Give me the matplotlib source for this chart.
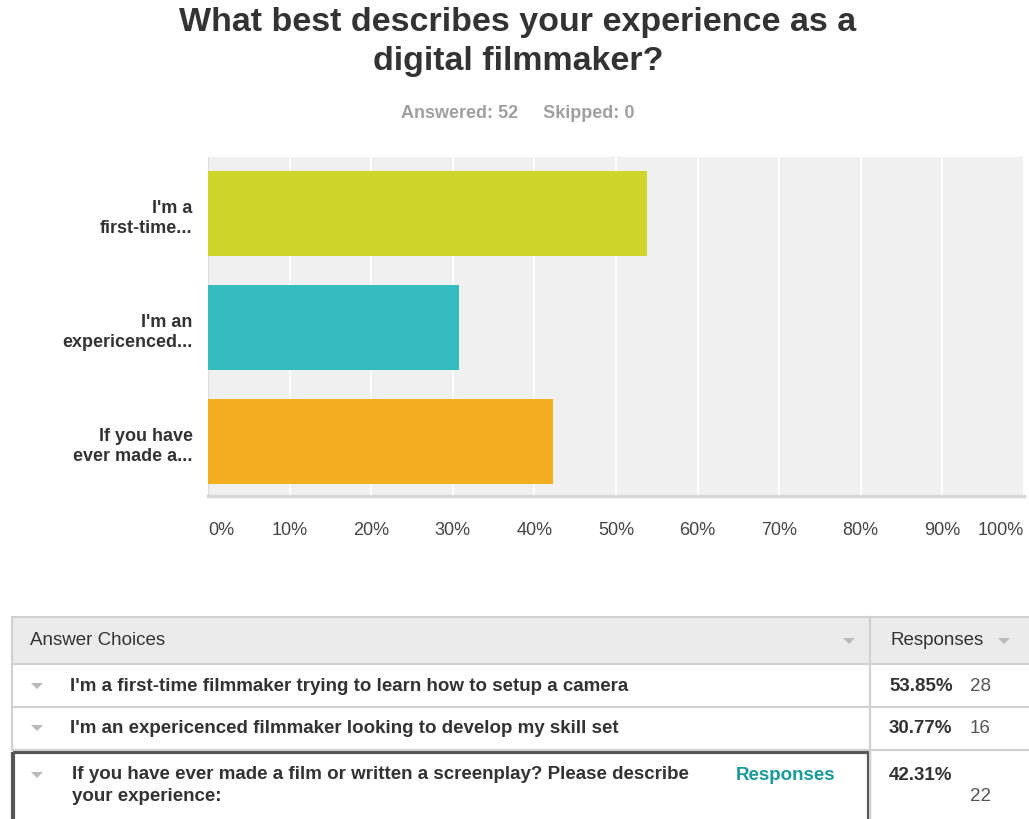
import matplotlib.pyplot as plt
from matplotlib.patches import Rectangle, Polygon

# survey results
short_labels = ["I'm a\nfirst-time...", "I'm an\nexpericenced...", "If you have\never made a..."]
full_labels = [
    "I'm a first-time filmmaker trying to learn how to setup a camera",
    "I'm an expericenced filmmaker looking to develop my skill set",
    "If you have ever made a film or written a screenplay? Please describe\nyour experience:",
]
percents = [53.85, 30.77, 42.31]
counts = [28, 16, 22]
bar_colors = ["#cfd52a", "#33bdbe", "#f6ae21"]
ticks = [0, 10, 20, 30, 40, 50, 60, 70, 80, 90, 100]

W, H = 1029, 820
fig = plt.figure(figsize=(W / 100, H / 100), dpi=100)
plt.rcParams['font.family'] = ['Liberation Sans', 'DejaVu Sans']


def px_axes(x0, y0, x1, y1):
    return fig.add_axes([x0 / W, 1 - y1 / H, (x1 - x0) / W, (y1 - y0) / H])


# bar chart
ax = px_axes(208, 158, 1024, 497)
ax.set_facecolor("#f0f0f0")
ypos = list(range(len(percents)))
ax.barh(ypos, percents, height=0.746, color=bar_colors, zorder=3)
ax.set_xlim(0, 100)
ax.set_ylim(2.478, -0.496)
ax.set_xticks(ticks)
ax.xaxis.grid(True, color="white", linewidth=1.5, zorder=1)
ax.set_yticks(ypos)
ax.set_yticklabels(short_labels, fontsize=13, fontweight="bold", color="#333333",
                   linespacing=1.25)
ax.tick_params(axis="y", length=0, pad=11)
ax.tick_params(axis="x", length=0, pad=18, labelsize=13, labelcolor="#444444")
ax.set_xticklabels([f"{t}%" for t in ticks])
xl = ax.get_xticklabels()
xl[0].set_ha("left")
xl[-1].set_ha("right")
for s in ["top", "right"]:
    ax.spines[s].set_visible(False)
ax.spines["left"].set_color("#dddddd")
ax.spines["bottom"].set_color("#d8d8d8")
ax.spines["bottom"].set_linewidth(2.5)

fig.text(518 / W, 1 - 42 / H, "What best describes your experience as a\ndigital filmmaker?",
         ha="center", va="center", fontsize=24.5, fontweight="bold", color="#333333",
         linespacing=1.3)
fig.text(518 / W, 1 - 114 / H, "Answered: 52     Skipped: 0", ha="center", va="center",
         fontsize=13, fontweight="bold", color="#a0a0a0")

# table underneath
tb = fig.add_axes([0, 0, 1, 1])
tb.set_xlim(0, W)
tb.set_ylim(H, 0)
tb.axis("off")
narrow = ["Liberation Sans Narrow", "Liberation Sans", "DejaVu Sans"]

tb.add_patch(Rectangle((12, 618), W - 12, 47, facecolor="#ebebeb", edgecolor="none"))
tb.plot([12, W], [618, 618], color="#d0d0d0", lw=1.5)
tb.plot([12, W], [665, 665], color="#d0d0d0", lw=1.5)
tb.plot([12, W], [708, 708], color="#d0d0d0", lw=1.5)
tb.plot([12, W], [751, 751], color="#d0d0d0", lw=1.5)
tb.plot([870, 870], [618, H], color="#d0d0d0", lw=1.5)
tb.plot([12, 12], [618, 751], color="#d0d0d0", lw=1.5)
tb.text(30, 641, "Answer Choices", ha="left", va="center", fontsize=13.5,
        color="#333333", family=narrow)
tb.text(890, 641, "Responses", ha="left", va="center", fontsize=13.5,
        color="#333333", family=narrow)


def tri(x, y, c="#bbbbbb"):
    tb.add_patch(Polygon([[x - 6, y - 3], [x + 6, y - 3], [x, y + 3]], closed=True,
                         facecolor=c, edgecolor="none"))


tri(849, 642)
tri(1004, 642)

row_y = [687, 729, 776]
for i, (lab, p, n) in enumerate(zip(full_labels, percents, counts)):
    y = row_y[i]
    tri(37, y)
    if i < 2:
        tb.text(70, y, lab, ha="left", va="center", fontsize=13.5, fontweight="bold",
                color="#333333", family=narrow)
        tb.text(889, y, f"{p:.2f}%", ha="left", va="center", fontsize=13.5,
                fontweight="bold", color="#333333", family=narrow)
        tb.text(970, y, str(n), ha="left", va="center", fontsize=13.5,
                color="#555555", family=narrow)
    else:
        tb.text(72, y - 10, lab, ha="left", va="top", fontsize=13.5, fontweight="bold",
                color="#333333", family=narrow, linespacing=1.4)
        tb.text(736, y, "Responses", ha="left", va="center", fontsize=13.5,
                fontweight="bold", color="#1a9a9a", family=narrow)
        tb.text(889, y, f"{p:.2f}%", ha="left", va="center", fontsize=13.5,
                fontweight="bold", color="#333333", family=narrow)
        tb.text(970, 797, str(n), ha="left", va="center", fontsize=13.5,
                color="#555555", family=narrow)

# highlighted last row
tb.add_patch(Rectangle((13, 753), 856, 80, facecolor="none", edgecolor="#555555", lw=3))

fig.savefig("out.png", dpi=100)
